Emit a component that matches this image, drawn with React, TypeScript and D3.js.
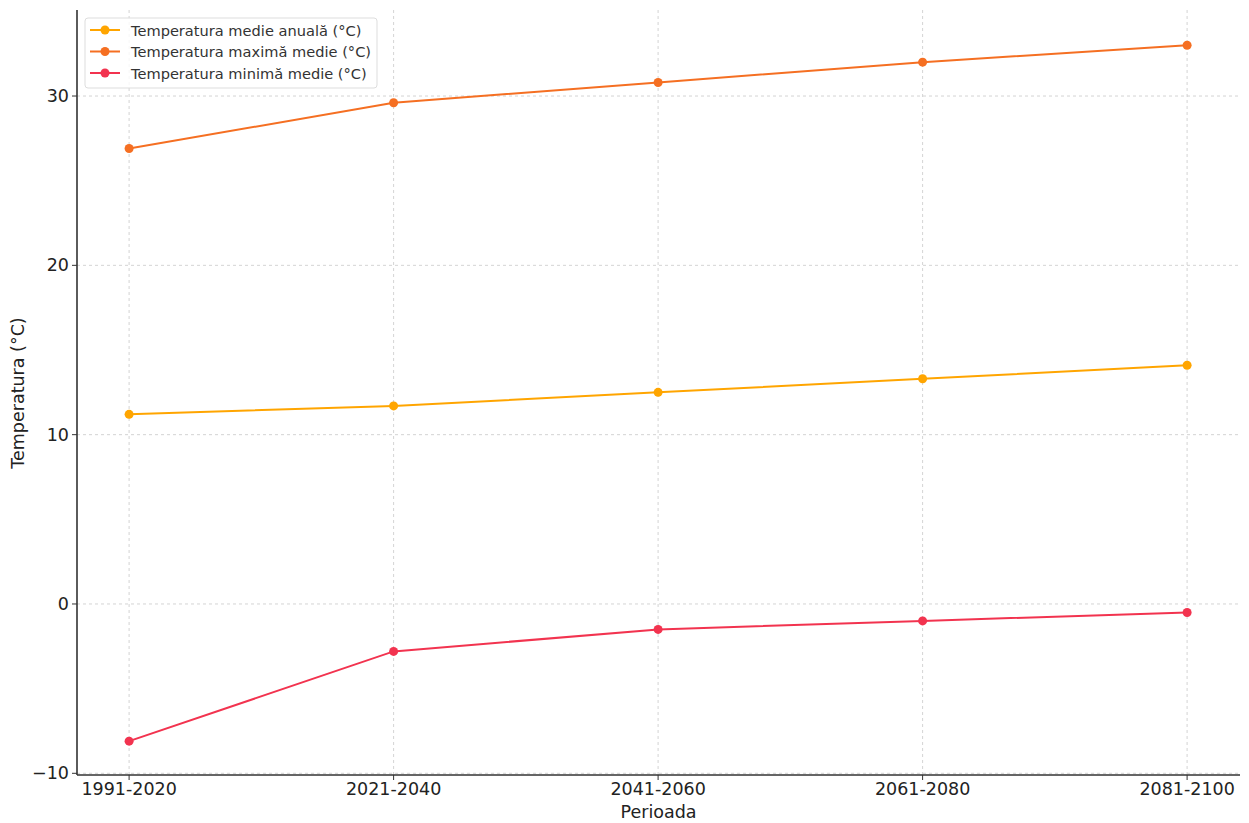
import React from "react";
import * as d3 from "d3";

const periods = ["1991-2020", "2021-2040", "2041-2060", "2061-2080", "2081-2100"];
const meanTemp = [11.2, 11.7, 12.5, 13.3, 14.1];
const maxTemp = [26.9, 29.6, 30.8, 32.0, 33.0];
const minTemp = [-8.1, -2.8, -1.5, -1.0, -0.5];
const yTicks = [-10, 0, 10, 20, 30];
const seriesNames = [
  "Temperatura medie anuală (°C)",
  "Temperatura maximă medie (°C)",
  "Temperatura minimă medie (°C)",
];
const seriesColors = ["#FFA500", "#F56F22", "#F2334F"];

const W = 1249;
const H = 823;
const left = 77;
const right = 1240;
const top = 10;
const bottom = 775;

export default function App() {
  const x = d3.scaleLinear().domain([-0.197, 4.2]).range([left, right]);
  const y = d3.scaleLinear().domain([-10.1, 35.08]).range([bottom, top]);
  const series = [meanTemp, maxTemp, minTemp];
  const line = d3
    .line<number>()
    .x((_, i) => x(i))
    .y((d) => y(d));
  const font = "DejaVu Sans, sans-serif";
  return (
    <svg
      width={W}
      height={H}
      style={{ position: "absolute", left: 0, top: 0, background: "#fff" }}
      fontFamily={font}
    >
      {/* grid */}
      {periods.map((p, i) => (
        <line
          key={"gx" + p}
          x1={x(i)}
          x2={x(i)}
          y1={top}
          y2={bottom}
          stroke="#c8c8c8"
          strokeWidth={0.8}
          strokeDasharray="3,3"
        />
      ))}
      {yTicks.map((t) => (
        <line
          key={"gy" + t}
          x1={left}
          x2={right}
          y1={y(t)}
          y2={y(t)}
          stroke="#c8c8c8"
          strokeWidth={0.8}
          strokeDasharray="3,3"
        />
      ))}
      {/* series */}
      {series.map((s, k) => (
        <g key={"s" + k}>
          <path d={line(s) || ""} fill="none" stroke={seriesColors[k]} strokeWidth={2} />
          {s.map((v, i) => (
            <circle key={i} cx={x(i)} cy={y(v)} r={4.5} fill={seriesColors[k]} />
          ))}
        </g>
      ))}
      {/* spines */}
      <line x1={left} x2={left} y1={top} y2={bottom} stroke="#333" strokeWidth={1.6} />
      <line x1={left} x2={right} y1={bottom} y2={bottom} stroke="#333" strokeWidth={1.6} />
      {/* y ticks */}
      {yTicks.map((t) => (
        <g key={"yt" + t}>
          <line x1={left - 5} x2={left} y1={y(t)} y2={y(t)} stroke="#333" strokeWidth={1} />
          <text
            x={left - 8}
            y={y(t)}
            textAnchor="end"
            dominantBaseline="central"
            fontSize={17.5}
            fill="#222"
          >
            {t < 0 ? "\u2212" + Math.abs(t) : t}
          </text>
        </g>
      ))}
      {/* x ticks */}
      {periods.map((p, i) => (
        <g key={"xt" + p}>
          <line x1={x(i)} x2={x(i)} y1={bottom} y2={bottom + 5} stroke="#333" strokeWidth={1} />
          <text x={x(i)} y={bottom + 20} textAnchor="middle" fontSize={17.5} fill="#222">
            {p}
          </text>
        </g>
      ))}
      {/* axis labels */}
      <text x={(left + right) / 2} y={818} textAnchor="middle" fontSize={17.5} fill="#222">
        Perioada
      </text>
      <text
        transform={`translate(24, ${393}) rotate(-90)`}
        textAnchor="middle"
        fontSize={17.5}
        fill="#222"
      >
        Temperatura (°C)
      </text>
      {/* legend */}
      <g>
        <rect
          x={85}
          y={18}
          width={292}
          height={70}
          rx={3}
          fill="#fff"
          fillOpacity={0.8}
          stroke="#dddddd"
          strokeWidth={1}
        />
        {seriesNames.map((n, k) => (
          <g key={"lg" + k} transform={`translate(0, ${30 + k * 21.5})`}>
            <line x1={90} x2={120} y1={0} y2={0} stroke={seriesColors[k]} strokeWidth={2} />
            <circle cx={105} cy={0} r={4.5} fill={seriesColors[k]} />
            <text x={131} y={0} dominantBaseline="central" fontSize={14.6} fill="#333">
              {n}
            </text>
          </g>
        ))}
      </g>
    </svg>
  );
}
